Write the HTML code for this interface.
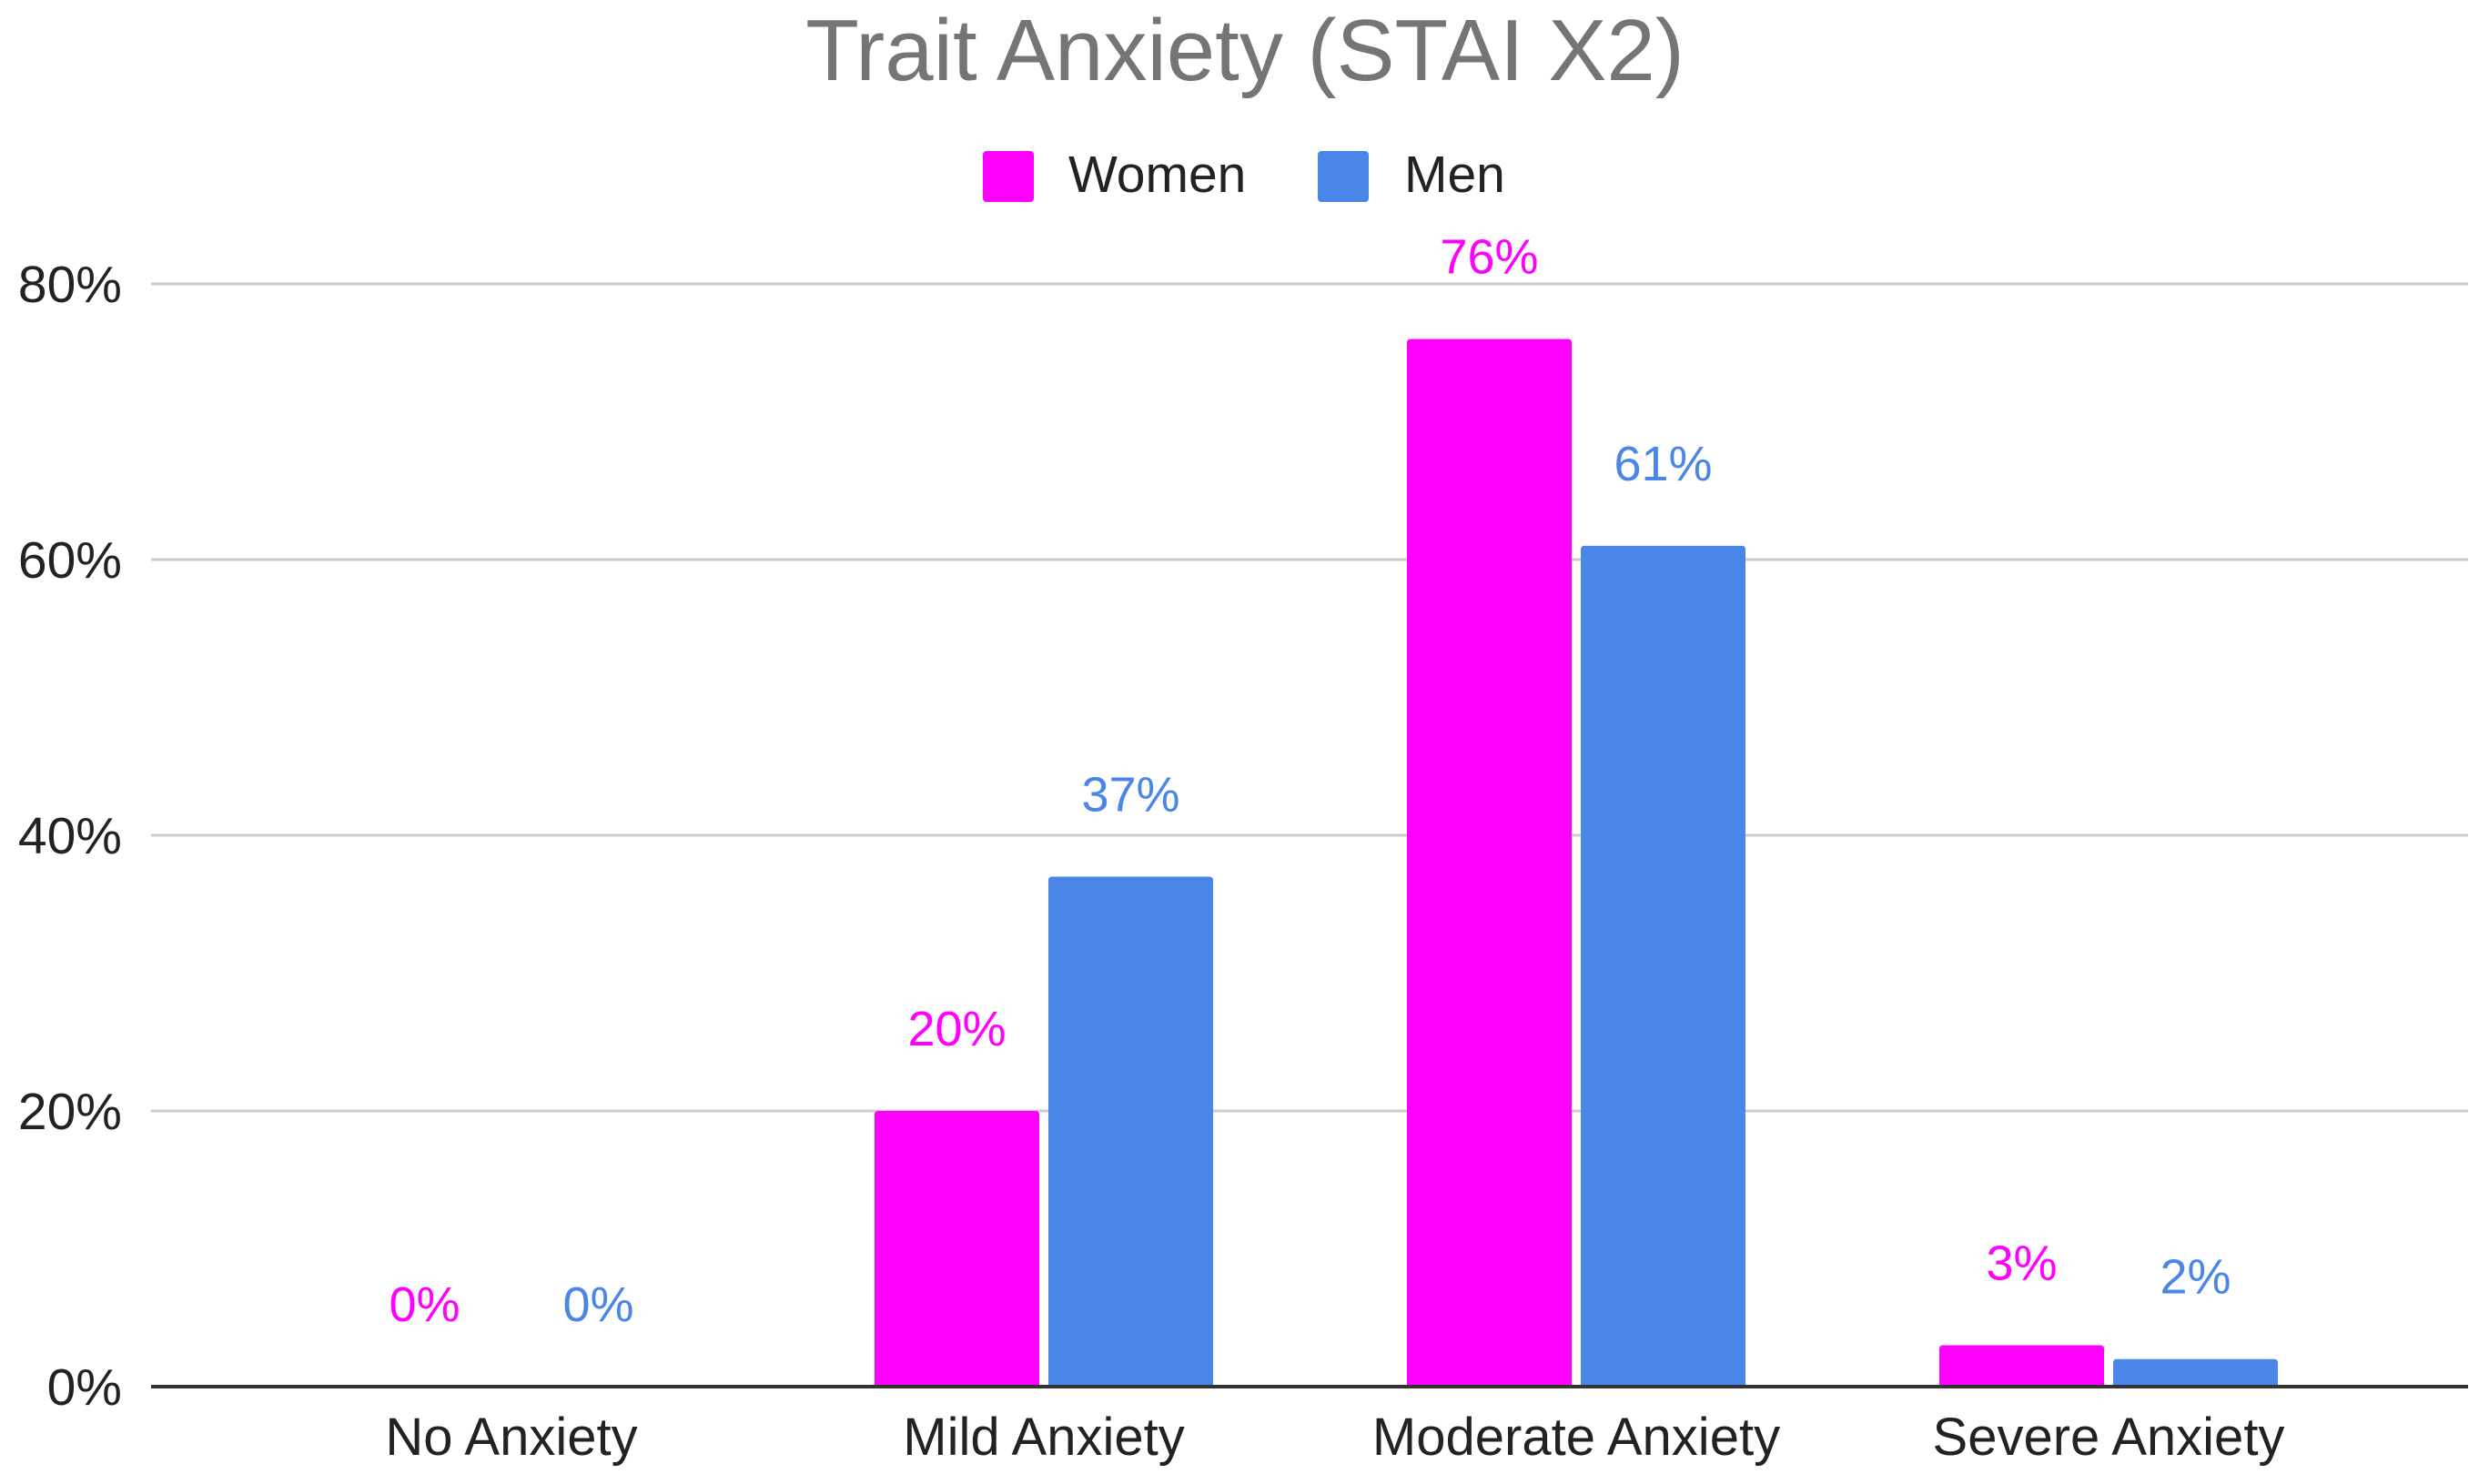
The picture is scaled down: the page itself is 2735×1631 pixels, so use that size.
<!DOCTYPE html>
<html><head><meta charset="utf-8"><style>
html,body{margin:0;padding:0;background:#fff;}
svg{display:block;font-family:"Liberation Sans",Arial,sans-serif;}
</style></head><body>
<svg id="chart" width="2735" height="1631" viewBox="0 0 2735 1631">
<text x="1368" y="88" text-anchor="middle" font-size="96" fill="#757575">Trait Anxiety (STAI X2)</text>
<g>
<rect x="1080" y="166" width="56" height="56" rx="4" fill="#ff00ff"/>
<text x="1174" y="211" font-size="57" fill="#222">Women</text>
<rect x="1448" y="166" width="56" height="56" rx="4" fill="#4a86e8"/>
<text x="1543" y="211" font-size="57" fill="#222">Men</text>
</g>
<g id="grid"></g><g id="bars"></g><g id="labels"></g>
</svg>
<script>
const categories=["No Anxiety","Mild Anxiety","Moderate Anxiety","Severe Anxiety"];
const women=[0,20,76,3];
const men=[0,37,61,2];
const ticks=[0,20,40,60,80];
const tickLabels=["0%","20%","40%","60%","80%"];
const NS="http://www.w3.org/2000/svg";
const plotL=166,plotR=2712,y0=1524,perUnit=(1524-312)/80;
const y=v=>y0-v*perUnit;
const catX=i=>562+i*585;
const barW=181,gap=10;
function mk(t,a,p){const e=document.createElementNS(NS,t);for(const k in a)e.setAttribute(k,a[k]);p.appendChild(e);return e;}
const grid=document.getElementById('grid'),bars=document.getElementById('bars'),labels=document.getElementById('labels');
ticks.forEach((t,i)=>{
 if(t>0){const l=mk('line',{x1:plotL,x2:plotR,y1:y(t),y2:y(t),stroke:'#cccccc','stroke-width':3},grid);
 
 }
 const tx=mk('text',{x:134,y:y(t)+20,'text-anchor':'end','font-size':57,fill:'#222'},grid);
 tx.textContent=tickLabels[i];
 
 
});
categories.forEach((c,i)=>{
 const cx=catX(i);
 [[women[i],'#ff00ff',cx-gap/2-barW,'women'],[men[i],'#4a86e8',cx+gap/2,'men']].forEach(([v,col,x,s])=>{
  if(v>0){const r=mk('path',{d:`M${x},${y0}V${y(v)+4}q0,-4 4,-4h${barW-8}q4,0 4,4V${y0}Z`,fill:col},bars);
  
  }
  const t=mk('text',{x:x+barW/2,y:y(v)-72,'text-anchor':'middle','font-size':54,fill:col},labels);
  t.textContent=v+'%';
  
  
 });
 const ct=mk('text',{x:cx,y:1599,'text-anchor':'middle','font-size':58,fill:'#222'},labels);
 ct.textContent=c;
 
 
});
const ax=mk('line',{x1:plotL,x2:plotR,y1:y0,y2:y0,stroke:'#333','stroke-width':4},labels);


</script>
</body></html>
